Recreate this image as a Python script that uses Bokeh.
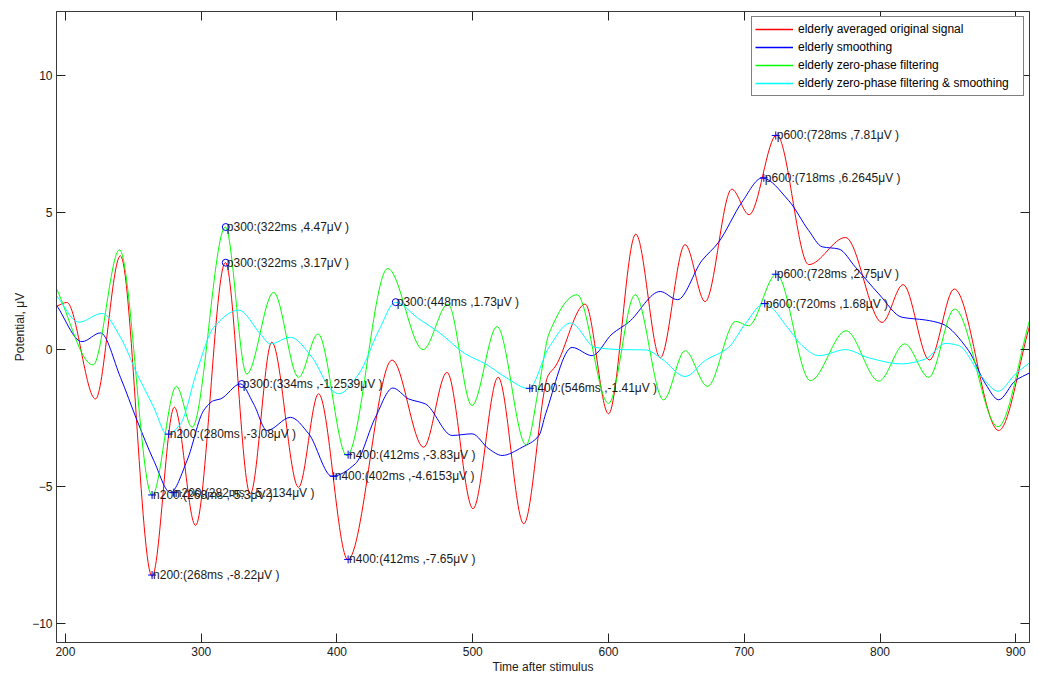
import numpy as np
from bokeh.plotting import figure
from bokeh.models import Range1d, FixedTicker, LinearAxis, ColumnDataSource, Legend, LegendItem
from bokeh.core.properties import value
from bokeh.embed import file_html
from bokeh.resources import INLINE

# ---------------- data ----------------
x_ticks = [200, 300, 400, 500, 600, 700, 800, 900]
y_ticks = [-10, -5, 0, 5, 10]

series_names = ["elderly averaged original signal", "elderly smoothing",
                "elderly zero-phase filtering", "elderly zero-phase filtering & smoothing"]
series_colors = ["#ff0000", "#0000ff", "#00ff00", "#00ffff"]

red_t = [193.4, 201.0, 222.1, 240.5, 263.8, 280.2, 295.8, 317.8, 336.1, 352.0, 371.7, 386.4,
         408.0, 440.6, 463.8, 481.0, 500.2, 518.7, 537.6, 555.5, 561.0, 582.8, 600.0, 620.1,
         638.1, 656.4, 671.2, 690.8, 703.6, 723.9, 747.5, 774.6, 801.5, 817.0, 836.4, 854.7,
         887.4, 910.1]
red_v = [1.58, 1.72, -1.80, 3.42, -8.27, -2.10, -6.41, 3.18, -5.26, 0.27, -5.02, -1.61,
         -7.66, -0.38, -3.56, -0.83, -5.80, -1.01, -6.35, -0.95, -0.60, 1.66, -2.34, 4.21,
         -0.30, 3.83, 1.75, 5.85, 4.92, 7.83, 3.10, 4.09, 0.99, 2.37, -0.38, 2.21,
         -2.95, 0.85]

blue_t = [193.4, 212.2, 225.8, 240.5, 252.8, 265.0, 277.3, 289.6, 301.8, 309.2, 314.1, 328.9,
          338.6, 348.5, 365.7, 379.2, 396.3, 413.6, 428.3, 441.1, 452.9, 465.1, 484.8, 499.5,
          511.9, 521.6, 536.4, 548.8, 553.7, 573.2, 587.9, 602.6, 614.9, 638.1, 650.8, 668.7,
          681.0, 698.2, 713.2, 732.8, 747.5, 757.4, 769.6, 782.0, 799.1, 816.2, 833.5, 845.7,
          865.3, 877.7, 887.4, 899.7, 910.1]
blue_v = [1.62, 0.29, 0.61, -1.01, -2.59, -4.04, -5.21, -4.04, -2.22, -1.86, -1.80, -1.25,
          -1.98, -2.95, -2.47, -3.07, -4.62, -4.16, -2.47, -1.40, -1.80, -1.98, -3.13, -3.07,
          -3.62, -3.86, -3.56, -3.13, -2.34, 0.08, -0.22, 0.57, 1.00, 2.12, 1.82, 3.24,
          3.91, 5.37, 6.26, 5.43, 4.34, 3.75, 3.67, 3.00, 2.03, 1.18, 1.08, 0.94,
          -0.04, -1.25, -1.83, -1.13, -0.85]

green_t = [193.4, 220.3, 239.8, 263.8, 281.7, 293.3, 317.8, 333.5, 353.3, 371.7, 386.0, 407.2,
           437.4, 463.4, 481.8, 499.4, 517.9, 539.3, 548.8, 556.1, 576.8, 600.0, 619.6, 640.5,
           656.4, 672.9, 693.7, 703.1, 723.7, 748.7, 775.0, 799.1, 818.2, 835.9, 854.9, 886.9,
           910.1]
green_v = [2.22, -0.56, 3.64, -5.32, -1.34, -2.83, 4.47, -0.89, 2.09, -1.01, 0.57, -3.86,
           2.96, 0.00, 1.66, -2.04, 0.84, -3.47, -1.34, 0.57, 2.00, -1.96, 2.00, -1.83,
           -0.04, -1.34, 1.03, 0.87, 2.75, -1.13, 0.69, -1.15, 0.21, -1.01, 1.48, -2.81,
           1.05]

cyan_t = [193.4, 209.8, 227.0, 240.5, 252.8, 265.0, 274.9, 284.7, 296.9, 309.2, 327.6, 343.6,
          350.9, 365.7, 381.6, 396.3, 401.3, 416.0, 430.7, 443.1, 460.3, 475.1, 494.7, 509.4,
          524.2, 541.4, 556.1, 572.0, 590.4, 609.9, 627.2, 639.3, 656.4, 671.2, 688.4, 700.7,
          714.7, 732.8, 742.5, 754.9, 774.6, 791.7, 816.2, 833.5, 848.2, 857.9, 875.2, 886.9,
          899.7, 910.1]
cyan_v = [1.97, 1.00, 1.32, 0.45, -0.89, -2.10, -3.10, -2.71, -0.77, 0.81, 1.44, 0.57,
          0.21, 0.45, -0.28, -1.49, -1.61, -0.89, 0.69, 1.72, 1.12, 0.63, -0.16, -0.52,
          -1.01, -1.42, 0.08, 0.97, 0.08, 0.00, -0.01, -0.34, -0.98, -0.40, 0.08, 0.94,
          1.68, 0.75, 0.15, -0.22, 0.00, -0.30, -0.52, -0.34, 0.23, 0.15, -1.01, -1.52,
          -0.89, -0.48]

# annotated peaks
peak_t = [263.8, 263.8, 279.8, 276.1, 318.1, 318.1, 329.9, 443.3,
          408.2, 397.6, 408.2, 542.0, 723.2, 714.4, 723.2, 715.1]
peak_v = [-8.22, -5.3, -5.2134, -3.08, 4.47, 3.17, -1.2539, 1.73,
          -3.83, -4.6153, -7.65, -1.41, 7.81, 6.2645, 2.75, 1.68]
peak_kind = ["+", "+", "+", "+", "o", "o", "o", "o",
             "+", "+", "+", "+", "+", "+", "+", "+"]
peak_labels = ["n200:(268ms ,-8.22\u03bcV )", "n200:(268ms ,-5.3\u03bcV )",
               "n200:(282ms ,-5.2134\u03bcV )", "n200:(280ms ,-3.08\u03bcV )",
               "p300:(322ms ,4.47\u03bcV )", "p300:(322ms ,3.17\u03bcV )",
               "p300:(334ms ,-1.2539\u03bcV )", "p300:(448ms ,1.73\u03bcV )",
               "n400:(412ms ,-3.83\u03bcV )", "n400:(402ms ,-4.6153\u03bcV )",
               "n400:(412ms ,-7.65\u03bcV )", "n400:(546ms ,-1.41\u03bcV )",
               "p600:(728ms ,7.81\u03bcV )", "p600:(718ms ,6.2645\u03bcV )",
               "p600:(728ms ,2.75\u03bcV )", "p600:(720ms ,1.68\u03bcV )"]

# ---------------- drawing helpers ----------------
def smooth_segments(t, v):
    """Bezier control points (monotone cubic tangents) for drawing a smooth
    curve through the read points."""
    t = np.asarray(t, float)
    v = np.asarray(v, float)
    h = np.diff(t)
    d = np.diff(v) / h
    m = np.zeros_like(v)
    m[0] = d[0]
    m[-1] = d[-1]
    for k in range(1, len(v) - 1):
        if d[k - 1] * d[k] <= 0:
            m[k] = 0.0
        else:
            w1 = 2 * h[k] + h[k - 1]
            w2 = h[k] + 2 * h[k - 1]
            m[k] = (w1 + w2) / (w1 / d[k - 1] + w2 / d[k])
    return dict(x0=t[:-1], y0=v[:-1], x1=t[1:], y1=v[1:],
                cx0=t[:-1] + h / 3, cy0=v[:-1] + m[:-1] * h / 3,
                cx1=t[1:] - h / 3, cy1=v[1:] - m[1:] * h / 3)

FONT = "Liberation Sans"
AX = "#3a3a3a"

p = figure(width=1030, height=676, output_backend="svg", toolbar_location=None,
           x_range=Range1d(193.4, 910.1), y_range=Range1d(-10.68, 12.33),
           min_border_left=56, min_border_right=1, min_border_top=11, min_border_bottom=0,
           background_fill_color="white", border_fill_color="white")
p.outline_line_color = AX
p.outline_line_width = 1
p.xgrid.visible = False
p.ygrid.visible = False

for ax in (p.xaxis[0], p.yaxis[0]):
    ax.major_tick_in = 9
    ax.major_tick_out = 0
    ax.minor_tick_line_color = None
    ax.axis_line_color = AX
    ax.major_tick_line_color = "#222222"
    ax.major_label_text_font = FONT
    ax.major_label_text_font_size = "12px"
    ax.major_label_text_color = "#1a1a1a"
    ax.axis_label_text_font = FONT
    ax.axis_label_text_font_size = "12px"
    ax.axis_label_text_font_style = "normal"
    ax.axis_label_text_color = "#1a1a1a"
p.xaxis[0].ticker = FixedTicker(ticks=x_ticks)
p.yaxis[0].ticker = FixedTicker(ticks=y_ticks)
p.xaxis[0].major_label_standoff = 4
p.xaxis[0].axis_label_standoff = 1
p.yaxis[0].major_label_standoff = 4
p.yaxis[0].axis_label_standoff = 2
p.xaxis[0].axis_label = "Time after stimulus"
p.yaxis[0].axis_label = "Potential, \u03bcV"

top = LinearAxis(ticker=FixedTicker(ticks=x_ticks))
right = LinearAxis(ticker=FixedTicker(ticks=y_ticks))
for ax in (top, right):
    ax.major_tick_in = 9
    ax.major_tick_out = 0
    ax.minor_tick_line_color = None
    ax.axis_line_color = AX
    ax.major_tick_line_color = "#222222"
    ax.major_label_text_color = None
    ax.major_label_text_font_size = "1px"
    ax.major_label_standoff = 0
p.add_layout(top, "above")
p.add_layout(right, "right")

all_series = [(red_t, red_v), (blue_t, blue_v), (green_t, green_v), (cyan_t, cyan_v)]
legend_items = []
for (t, v), name, col in zip(all_series, series_names, series_colors):
    src = ColumnDataSource(smooth_segments(t, v))
    p.bezier(x0="x0", y0="y0", x1="x1", y1="y1", cx0="cx0", cy0="cy0", cx1="cx1", cy1="cy1",
             source=src, line_color=col, line_width=1)
    # legend key: a line renderer of the same colour holding only the series' first point
    key = p.line(x=t[:1], y=v[:1], line_color=col, line_width=1.6, line_alpha=1.0)
    legend_items.append(LegendItem(label=name, renderers=[key]))

cross_idx = [i for i, k in enumerate(peak_kind) if k == "+"]
circ_idx = [i for i, k in enumerate(peak_kind) if k == "o"]
p.scatter([peak_t[i] for i in cross_idx], [peak_v[i] for i in cross_idx],
          marker="cross", size=8, line_color="#0000ee", line_width=1)
p.scatter([peak_t[i] for i in circ_idx], [peak_v[i] for i in circ_idx],
          marker="circle", size=7, fill_color=None, line_color="#0000ee", line_width=1)
p.text(x=peak_t, y=peak_v, text=peak_labels, text_font=value(FONT), text_font_size="12px",
       text_color="#1a1a1a", text_align="left", text_baseline="middle", x_offset=1)

lg = Legend(items=legend_items, location="top_right")
lg.margin = 5
lg.padding = 3
lg.spacing = 0
lg.glyph_width = 38
lg.glyph_height = 18
lg.label_height = 18
lg.label_width = 222
lg.label_standoff = 5
lg.label_text_font = FONT
lg.label_text_font_size = "12px"
lg.label_text_color = "#000000"
lg.border_line_color = "#000000"
lg.border_line_width = 1
lg.background_fill_alpha = 1.0
p.add_layout(lg, "center")

open("out.html", "w").write(file_html(p, INLINE))
